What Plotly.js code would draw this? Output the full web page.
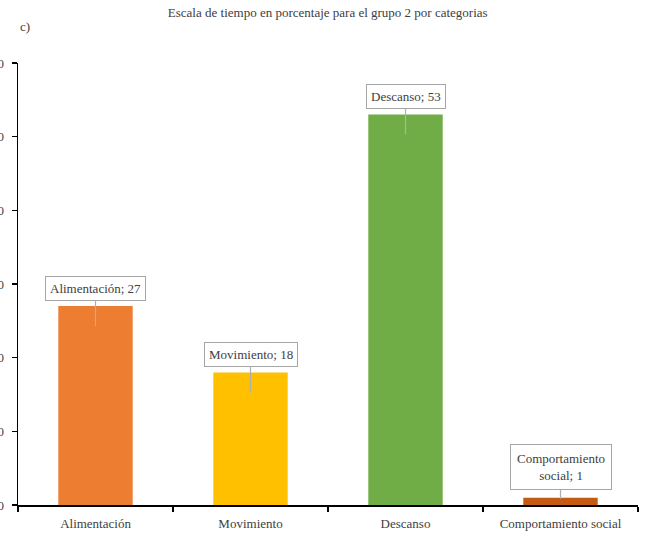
<!DOCTYPE html>
<html>
<head>
<meta charset="utf-8">
<script src="https://cdn.plot.ly/plotly-3.0.1.min.js"></script>
<style>html,body{margin:0;padding:0;background:#fff;}#chart{width:649px;height:539px;}</style>
</head>
<body>
<div id="chart"></div>
<script>
const categories = ["Alimentación", "Movimiento", "Descanso", "Comportamiento social"];
const values = [27, 18, 53, 1];
const labelTexts = ["Alimentación; 27", "Movimiento; 18", "Descanso; 53", "Comportamiento<br>social; 1"];
const barColors = ["#ED7D31", "#FFC000", "#70AD47", "#C55A11"];
const yTicks = [0, 10, 20, 30, 40, 50, 60];

const serif = "'Liberation Serif', 'Times New Roman', Times, serif";

const trace = {
  type: "bar",
  x: categories,
  y: values,
  marker: {color: barColors},
  width: 0.48,
  hoverinfo: "none"
};

const annotations = categories.map((c, i) => {
  const small = values[i] < 5;
  return {
    x: c, y: values[i], xref: "x", yref: "y",
    text: labelTexts[i],
    showarrow: true,
    arrowhead: 0, arrowwidth: 1.2, arrowcolor: "#b0b0b0",
    ax: 0, ay: small ? -32 : -38,
    yshift: small ? -1 : -20,
    bgcolor: "#ffffff",
    bordercolor: "#a6a6a6", borderwidth: 1, borderpad: small ? 6 : 4,
    font: {family: serif, size: 13, color: "#404040"}
  };
});

annotations.push({
  text: "c)", xref: "paper", yref: "paper", x: 0.0, y: 1.083,
  xanchor: "left", yanchor: "middle", showarrow: false,
  font: {family: serif, size: 13, color: "#404040"}
});

const layout = {
  width: 649, height: 539,
  margin: {l: 18, r: 11, t: 63, b: 34},
  paper_bgcolor: "#ffffff", plot_bgcolor: "#ffffff",
  showlegend: false,
  title: {
    text: "Escala de tiempo en porcentaje para el grupo 2 por categorias",
    x: 0.505, xanchor: "center", y: 0.976, yanchor: "middle",
    font: {family: serif, size: 13, color: "#404040"}
  },
  xaxis: {
    type: "category",
    showline: true, linecolor: "#000", linewidth: 1.5,
    ticks: "outside", tickson: "boundaries", ticklen: 5, tickcolor: "#000", tickwidth: 1.2,
    ticklabelstandoff: 6,
    showgrid: false, zeroline: false,
    tickfont: {family: serif, size: 13, color: "#404040"}
  },
  yaxis: {
    range: [0, 60],
    tickvals: yTicks,
    showline: true, linecolor: "#000", linewidth: 1.5,
    ticks: "outside", ticklen: 5, tickcolor: "#000", tickwidth: 1.2,
    ticklabelstandoff: 5,
    showgrid: false, zeroline: false,
    tickfont: {family: serif, size: 13, color: "#404040"}
  },
  annotations: annotations
};

Plotly.newPlot("chart", [trace], layout, {displayModeBar: false, staticPlot: true});
</script>
</body>
</html>
